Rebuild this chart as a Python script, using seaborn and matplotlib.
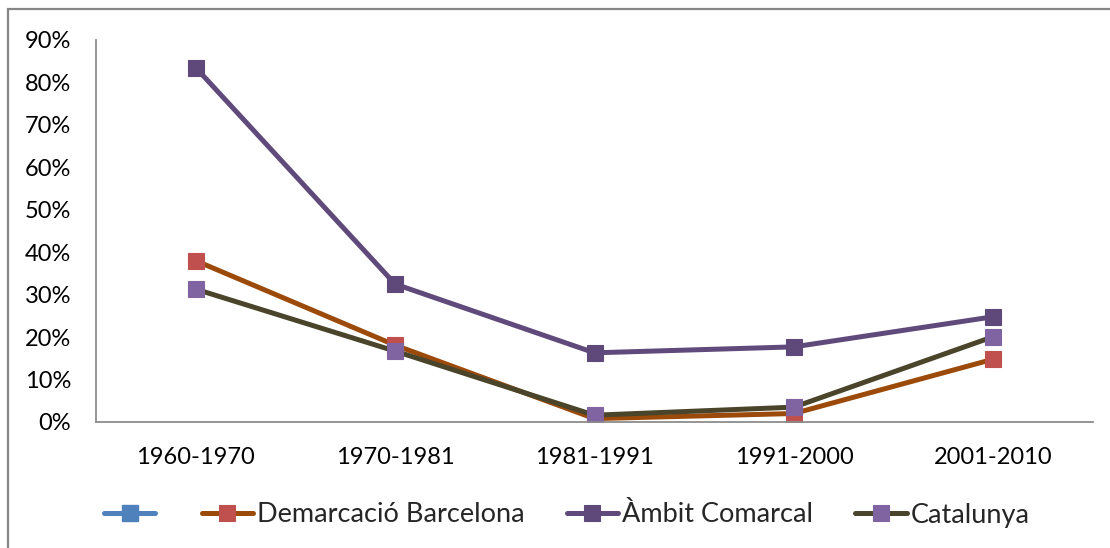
import matplotlib
matplotlib.use("Agg")
import matplotlib.pyplot as plt
import seaborn as sns
import pandas as pd
from matplotlib.patches import Rectangle
from matplotlib.ticker import PercentFormatter, MultipleLocator

periods = ["1960-1970", "1970-1981", "1981-1991", "1991-2000", "2001-2010"]
demarcacio = [0.380, 0.181, 0.008, 0.020, 0.148]
ambit = [0.835, 0.325, 0.163, 0.177, 0.248]
catalunya = [0.313, 0.167, 0.016, 0.035, 0.201]
series_names = ["", "Demarcació Barcelona", "Àmbit Comarcal", "Catalunya"]

sns.set_theme(style="white")
plt.rcParams["font.family"] = ["Lato", "DejaVu Sans"]

fig = plt.figure(figsize=(11.10, 5.48), dpi=100)
ax = fig.add_axes([96/1110, 1-422/548, (1093-96)/1110, (422-40)/548])

styles = [
    ("#4F81BD", "#4F81BD"),
    ("#9C4A0A", "#C0504D"),
    ("#604A7B", "#5F497A"),
    ("#4A452A", "#8064A2"),
]

handles = []
# empty (blank) series — legend only
blank, = ax.plot([], [], color=styles[0][0], lw=3.6, marker="s", ms=11,
                 mfc=styles[0][1], mec=styles[0][1])
handles.append(blank)

for name, vals, (lc, mc) in zip(series_names[1:], [demarcacio, ambit, catalunya], styles[1:]):
    df = pd.DataFrame({"period": periods, "value": vals})
    n_before = len(ax.lines)
    sns.lineplot(data=df, x="period", y="value", ax=ax, color=lc, lw=3.6,
                 marker="s", markersize=11, markerfacecolor=mc,
                 markeredgecolor=mc, markeredgewidth=0.8, sort=False, legend=False)
    handles.append(ax.lines[n_before])

ax.set_xlim(-0.5, 4.5)
ax.set_ylim(0, 0.9)
ax.yaxis.set_major_locator(MultipleLocator(0.1))
ax.yaxis.set_major_formatter(PercentFormatter(1.0, decimals=0))
ax.set_xlabel("")
ax.set_ylabel("")
for s in ["top", "right"]:
    ax.spines[s].set_visible(False)
for s in ["left", "bottom"]:
    ax.spines[s].set_color("#8C8C8C")
    ax.spines[s].set_linewidth(1.3)
ax.tick_params(axis="both", length=0, labelsize=17, colors="black")
ax.tick_params(axis="y", pad=18)
ax.tick_params(axis="x", pad=18)
ax.grid(False)

leg = fig.legend(handles, series_names, loc="center left", bbox_to_anchor=(104/1110, 1-515/548),
                 ncol=4, frameon=False, fontsize=19.5, handlelength=1.9,
                 handletextpad=0.15, columnspacing=1.55, borderaxespad=0, borderpad=0)

fig.patches.append(Rectangle((8/1110, -0.1), 1.2, 1-9/548+0.1, transform=fig.transFigure,
                             fill=False, edgecolor="#868686", lw=1.6, zorder=10))

fig.savefig("out.png", dpi=100, facecolor="white")
